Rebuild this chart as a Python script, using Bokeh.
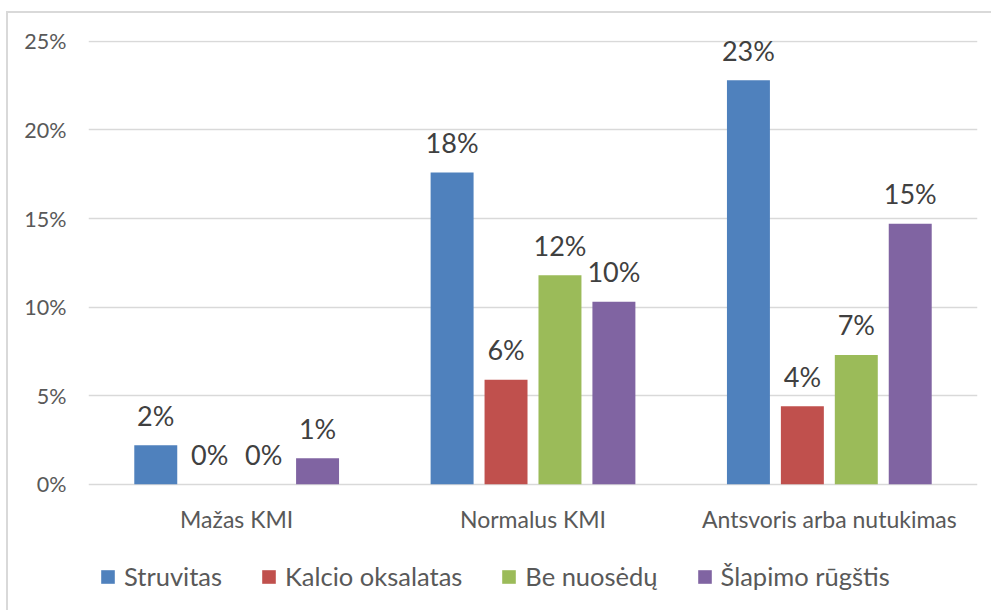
from bokeh.plotting import figure
from bokeh.models import (ColumnDataSource, Range1d, PrintfTickFormatter, FixedTicker,
                          Legend, LegendItem)
from bokeh.transform import dodge
from bokeh.core.properties import value
from bokeh.embed import file_html
from bokeh.resources import INLINE

categories = ["Mažas KMI", "Normalus KMI", "Antsvoris arba nutukimas"]
series_names = ["Struvitas", "Kalcio oksalatas", "Be nuosėdų", "Šlapimo rūgštis"]
struvitas = [2.2, 17.6, 22.8]
kalcio = [0.0, 5.9, 4.4]
be_nuosedu = [0.0, 11.8, 7.3]
slapimo = [1.47, 10.3, 14.7]
y_ticks = [0, 5, 10, 15, 20, 25]

colors = ["#4F81BD", "#C0504D", "#9BBB59", "#8064A2"]
series_vals = [struvitas, kalcio, be_nuosedu, slapimo]
offsets = [-0.273, -0.091, 0.091, 0.273]
FONT = "Lato"

p = figure(x_range=categories, y_range=Range1d(-7.24, 25.05), width=985, height=599,
           output_backend="svg", toolbar_location=None, x_axis_location=None,
           min_border_left=80, min_border_right=16, min_border_top=27, min_border_bottom=0)
p.styles = {"border-left": "2px solid #d9d9d9", "border-top": "2px solid #d9d9d9",
            "margin-left": "6px", "margin-top": "11px"}
p.outline_line_color = None
p.xgrid.grid_line_color = None
p.ygrid.grid_line_color = "#d9d9d9"
p.ygrid.grid_line_width = 1.5

items = []
for name, vals, col, off in zip(series_names, series_vals, colors, offsets):
    src = ColumnDataSource(dict(x=categories, y=vals, lab=[f"{v:.0f}%" for v in vals]))
    r = p.vbar(x=dodge("x", off, range=p.x_range), top="y", width=0.145, source=src,
               fill_color=col, line_color=None)
    p.text(x=dodge("x", off, range=p.x_range), y="y", text="lab", source=src,
           text_align="center", text_baseline="alphabetic", y_offset=-30,
           text_font=value(FONT), text_font_size="27px", text_color="#404040")
    items.append(LegendItem(label=name, renderers=[r]))

# category labels under the baseline
cat_src = ColumnDataSource(dict(x=categories, y=[0] * len(categories), t=categories))
p.text(x="x", y="y", text="t", source=cat_src, text_align="center", text_baseline="top",
       y_offset=21, text_font=value(FONT), text_font_size="23px", text_color="#595959")

p.yaxis.ticker = FixedTicker(ticks=y_ticks)
p.yaxis.formatter = PrintfTickFormatter(format="%d%%")
p.yaxis.axis_line_color = None
p.yaxis.major_tick_line_color = None
p.yaxis.minor_tick_line_color = None
p.yaxis.major_label_text_font = FONT
p.yaxis.major_label_text_color = "#595959"
p.yaxis.major_label_text_font_size = "21.5px"
p.yaxis.major_label_standoff = 16

legend = Legend(items=items, orientation="horizontal", location=(11, 21),
                padding=0, margin=0, spacing=38, label_standoff=8,
                glyph_width=17, glyph_height=17, label_height=17,
                label_text_font=FONT, label_text_font_size="25.5px",
                label_text_color="#595959", border_line_color=None,
                background_fill_alpha=0)
p.add_layout(legend, "center")

open("out.html", "w").write(file_html(p, INLINE))
